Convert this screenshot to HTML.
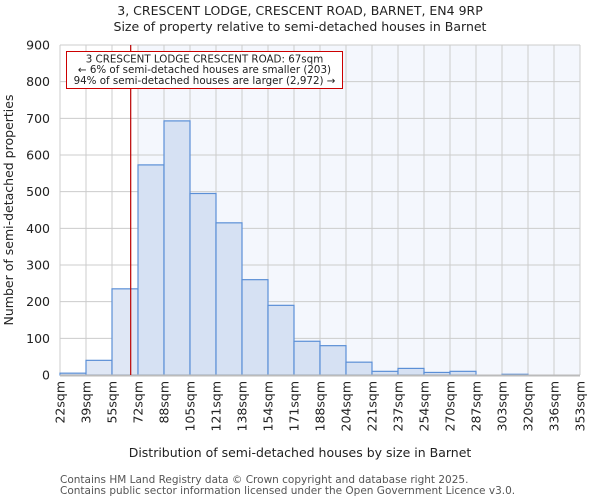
<!DOCTYPE html>
<html><head><meta charset="utf-8"><style>
body{margin:0;background:#fff;font-family:"DejaVu Sans","Liberation Sans",sans-serif;}
svg text{font-family:"DejaVu Sans","Liberation Sans",sans-serif;}
</style></head><body>
<svg id="chart" width="600" height="500" xmlns="http://www.w3.org/2000/svg">
<text x="300" y="15" text-anchor="middle" font-size="12.5" fill="#222">3, CRESCENT LODGE, CRESCENT ROAD, BARNET, EN4 9RP</text>
<text x="300" y="31" text-anchor="middle" font-size="12.5" fill="#222">Size of property relative to semi-detached houses in Barnet</text>
<g id="plot"></g>
<text x="300" y="457" text-anchor="middle" font-size="12.5" fill="#222">Distribution of semi-detached houses by size in Barnet</text>
<text transform="translate(13,210) rotate(-90)" text-anchor="middle" font-size="12.5" fill="#222">Number of semi-detached properties</text>
<text x="60" y="483" font-size="10.5" fill="#555">Contains HM Land Registry data © Crown copyright and database right 2025.</text>
<text x="60" y="494" font-size="10.5" fill="#555">Contains public sector information licensed under the Open Government Licence v3.0.</text>
</svg>
<script>
const categories=["22sqm","39sqm","55sqm","72sqm","88sqm","105sqm","121sqm","138sqm","154sqm","171sqm","188sqm","204sqm","221sqm","237sqm","254sqm","270sqm","287sqm","303sqm","320sqm","336sqm","353sqm"];
const counts=[5,40,235,573,693,495,415,260,190,92,80,35,10,18,7,10,0,2,0,0];
const yTicks=[0,100,200,300,400,500,600,700,800,900];
const propertySize=67;
const binStart=22, binWidth=16.55;
const X0=60,X1=580,Y0=375,Y1=45,YMAX=900;
const nb=counts.length;
const bw=(X1-X0)/nb;
const xs=v=>X0+(v-binStart)/binWidth*bw;
const ys=v=>Y0-(v/YMAX)*(Y0-Y1);
const ns="http://www.w3.org/2000/svg";
const g=document.getElementById('plot');
function mk(t,a){const e=document.createElementNS(ns,t);for(const k in a)e.setAttribute(k,a[k]);g.appendChild(e);return e;}
const px=xs(propertySize);
const highlightStart=Math.ceil((propertySize-binStart)/binWidth);
let bg=mk('rect',{x:X0,y:Y1,width:X1-X0,height:Y0-Y1,fill:'#fff'});


let hb=mk('rect',{x:X0+highlightStart*bw,y:Y1,width:X1-X0-highlightStart*bw,height:Y0-Y1,fill:'#f4f7fd'});


for(let i=0;i<=nb;i++){const l=mk('line',{x1:X0+i*bw,x2:X0+i*bw,y1:Y1,y2:Y0,stroke:'#ccc','stroke-width':1});

}
yTicks.forEach(t=>{const l=mk('line',{x1:X0,x2:X1,y1:ys(t),y2:ys(t),stroke:'#ccc','stroke-width':1});


const tx=mk('text',{x:X0-10,y:ys(t)+4.5,'text-anchor':'end','font-size':12.5,fill:'#222'});tx.textContent=t;

});
counts.forEach((c,i)=>{const r=mk('rect',{x:X0+i*bw,y:ys(c),width:bw,height:Y0-ys(c),fill:i<highlightStart?'#dfe7f5':'#d6e1f3',stroke:'#5b8fd6','stroke-width':1.2});

});
const ax=mk('line',{x1:X0,x2:X1,y1:Y0+0.5,y2:Y0+0.5,stroke:'#bbb','stroke-width':2});


categories.forEach((c,i)=>{const x=X0+i*bw;const t=mk('text',{transform:`translate(${x+4.5},381) rotate(-90)`,'text-anchor':'end','font-size':12.5,fill:'#222'});t.textContent=c;

});
const ml=mk('line',{x1:px,x2:px,y1:Y1,y2:Y0,stroke:'#b00','stroke-width':1.2});


const box=mk('rect',{x:66.5,y:51.5,width:276,height:37,fill:'#fff',stroke:'#c00','stroke-width':1});


["3 CRESCENT LODGE CRESCENT ROAD: 67sqm","← 6% of semi-detached houses are smaller (203)","94% of semi-detached houses are larger (2,972) →"].forEach((s,i)=>{const t=mk('text',{x:204.5,y:62.5+i*10.7,'text-anchor':'middle','font-size':10.3,fill:'#222'});t.textContent=s;

});
</script>
</body></html>
